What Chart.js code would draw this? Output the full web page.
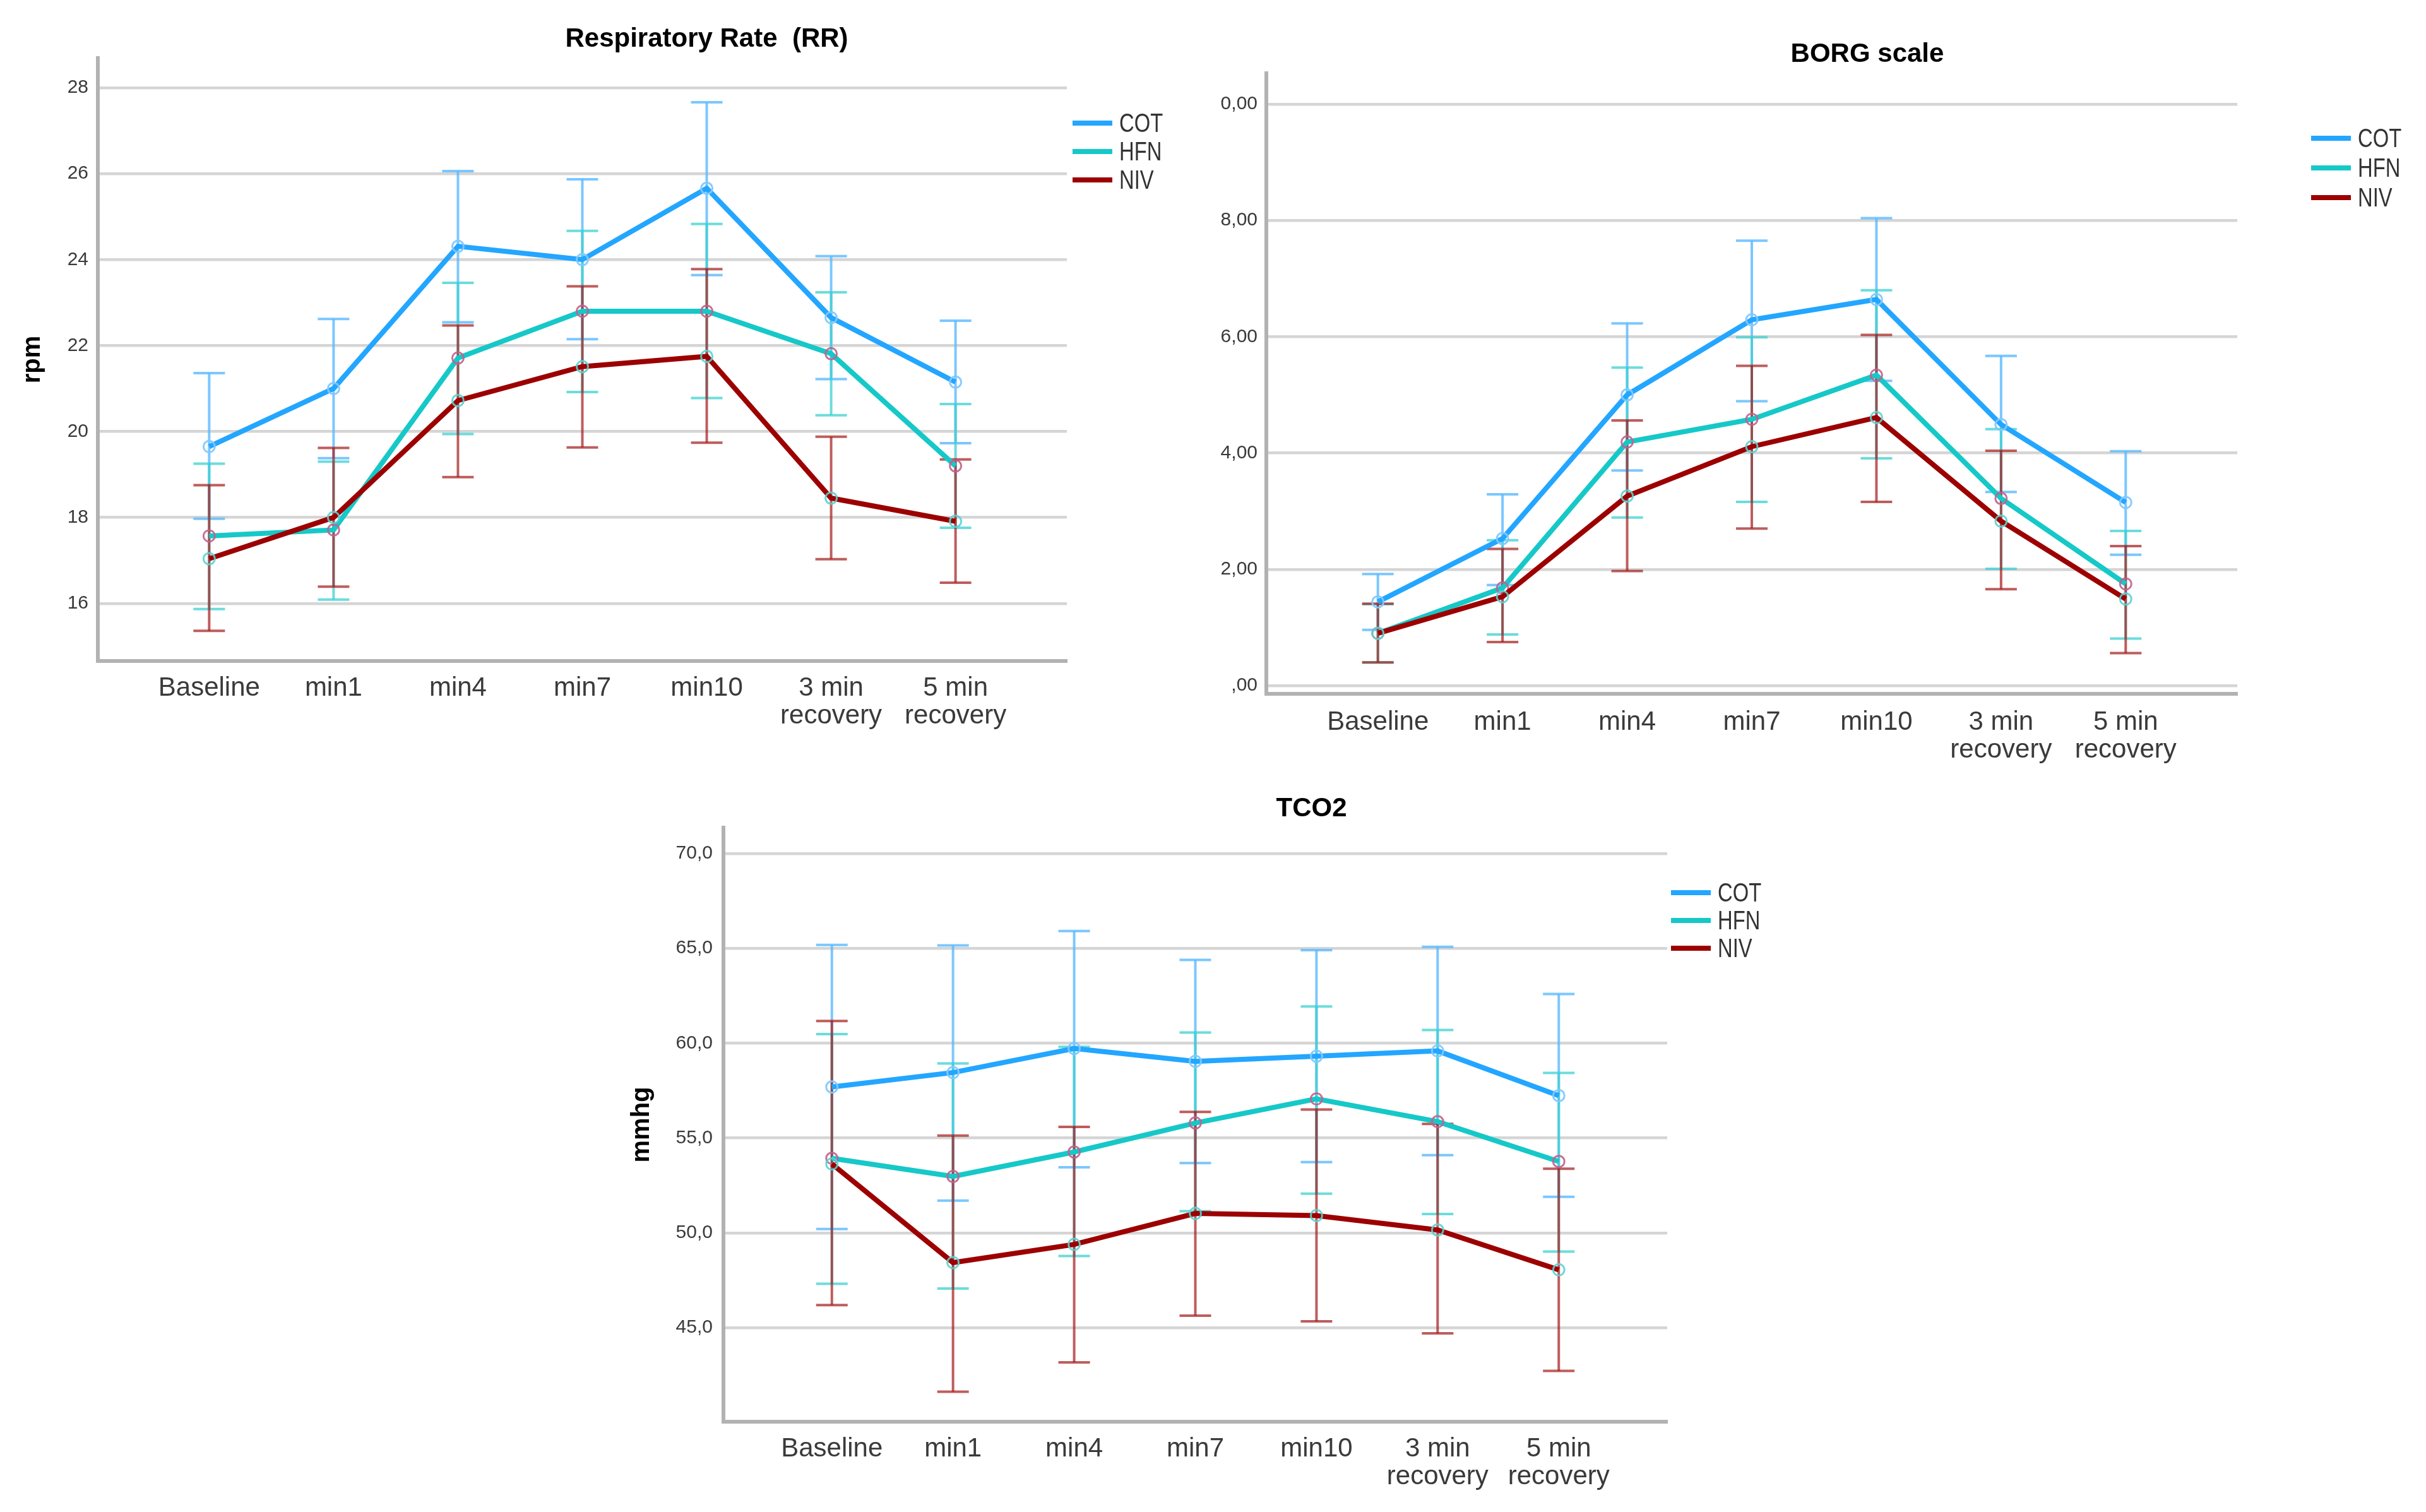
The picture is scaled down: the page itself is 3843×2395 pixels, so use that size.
<!DOCTYPE html>
<html>
<head>
<meta charset="utf-8">
<script src="https://cdn.jsdelivr.net/npm/chart.js@4.4.1/dist/chart.umd.min.js"></script>
<style>
  html, body { margin: 0; padding: 0; background: #fff; }
  body { width: 3843px; height: 2395px; position: relative; overflow: hidden; }
  canvas { position: absolute; }
  #rr { left: 0; top: 0; width: 1850px; height: 1180px; }
  #borg { left: 1850px; top: 0; width: 1993px; height: 1250px; }
  #tco2 { left: 950px; top: 1200px; width: 1900px; height: 1195px; }
</style>
</head>
<body>
<canvas id="rr" width="1850" height="1180"></canvas>
<canvas id="borg" width="1993" height="1250"></canvas>
<canvas id="tco2" width="1900" height="1195"></canvas>
<script>
const categories = ['Baseline', 'min1', 'min4', 'min7', 'min10', ['3 min', 'recovery'], ['5 min', 'recovery']];
const seriesNames = ['COT', 'HFN', 'NIV'];

// Respiratory rate (rpm): mean and 95% CI ends
const rrCotMean = [19.65, 21.0, 24.31, 24.0, 25.66, 22.65, 21.15];
const rrCotHigh = [21.36, 22.62, 26.06, 25.87, 27.66, 24.08, 22.58];
const rrCotLow  = [17.97, 19.38, 22.54, 22.15, 23.64, 21.22, 19.73];
const rrHfnMean = [17.57, 17.71, 21.71, 22.8, 22.8, 21.81, 19.2];
const rrHfnHigh = [19.25, 19.3, 23.46, 24.67, 24.83, 23.24, 20.64];
const rrHfnLow  = [15.87, 16.09, 19.94, 20.92, 20.78, 20.38, 17.76];
const rrNivMean = [17.04, 18.0, 20.72, 21.51, 21.75, 18.45, 17.91];
const rrNivHigh = [18.75, 19.62, 22.47, 23.38, 23.78, 19.88, 19.35];
const rrNivLow  = [15.36, 16.39, 18.94, 19.63, 19.74, 17.03, 16.48];
const rrTickValues = [28, 26, 24, 22, 20, 18, 16];
const rrTickLabels = ['28', '26', '24', '22', '20', '18', '16'];

// BORG scale
const borgCotMean = [1.44, 2.53, 5.0, 6.29, 6.64, 4.49, 3.15];
const borgCotHigh = [1.92, 3.29, 6.23, 7.65, 8.04, 5.67, 4.03];
const borgCotLow  = [0.96, 1.73, 3.70, 4.89, 5.24, 3.33, 2.25];
const borgHfnMean = [0.9, 1.68, 4.19, 4.58, 5.34, 3.22, 1.75];
const borgHfnHigh = [1.4, 2.5, 5.47, 5.99, 6.80, 4.41, 2.66];
const borgHfnLow  = [0.4, 0.88, 2.89, 3.16, 3.91, 2.01, 0.81];
const borgNivMean = [0.9, 1.53, 3.26, 4.11, 4.61, 2.83, 1.49];
const borgNivHigh = [1.41, 2.35, 4.56, 5.50, 6.03, 4.04, 2.40];
const borgNivLow  = [0.40, 0.75, 1.97, 2.70, 3.16, 1.66, 0.56];
const borgTickValues = [10, 8, 6, 4, 2, 0];
const borgTickLabels = ['0,00', '8,00', '6,00', '4,00', '2,00', ',00'];

// TCO2 (mmhg)
const tcoCotMean = [57.69, 58.45, 59.72, 59.04, 59.31, 59.59, 57.23];
const tcoCotHigh = [65.18, 65.15, 65.91, 64.39, 64.9, 65.08, 62.59];
const tcoCotLow  = [50.2, 51.7, 53.45, 53.68, 53.73, 54.09, 51.9];
const tcoHfnMean = [53.93, 52.97, 54.26, 55.79, 57.06, 55.86, 53.76];
const tcoHfnHigh = [60.48, 58.93, 59.8, 60.56, 61.93, 60.69, 58.43];
const tcoHfnLow  = [47.31, 47.06, 48.78, 51.14, 52.06, 50.99, 49.01];
const tcoNivMean = [53.63, 48.43, 49.39, 51.02, 50.91, 50.15, 48.05];
const tcoNivHigh = [61.17, 55.13, 55.58, 56.37, 56.5, 55.74, 53.38];
const tcoNivLow  = [46.19, 41.62, 43.17, 45.63, 45.33, 44.7, 42.72];
const tcoTickValues = [70, 65, 60, 55, 50, 45];
const tcoTickLabels = ['70,0', '65,0', '60,0', '55,0', '50,0', '45,0'];

const lineColors = ['#23a6ff', '#16c8c8', '#9c0000'];
const barColors = ['rgba(90,185,255,0.8)', 'rgba(60,208,208,0.75)', 'rgba(165,30,30,0.72)'];
const markerColors = ['rgba(130,200,255,0.95)', 'rgba(195,95,140,0.9)', 'rgba(90,210,210,0.9)'];
const FAMILY = 'Arial, "Liberation Sans", Helvetica, sans-serif';

Chart.defaults.font.family = FAMILY;

function meanPoints(m) {
  return m.map((v, i) => ({ x: i, y: v }));
}
function errorPoints(lo, hi) {
  const pts = [];
  lo.forEach((v, i) => {
    pts.push({ x: i, y: v }, { x: i, y: hi[i] }, { x: i, y: null });
  });
  return pts;
}

const panelTitle = {
  id: 'panelTitle',
  afterDraw(chart, args, opts) {
    const { ctx, chartArea } = chart;
    ctx.save();
    ctx.font = 'bold 42px ' + FAMILY;
    ctx.fillStyle = '#000';
    ctx.textAlign = 'center';
    ctx.textBaseline = 'middle';
    ctx.fillText(opts.text, (chartArea.left + chartArea.right) / 2 + opts.dx, chartArea.top - opts.dy);
    ctx.restore();
  }
};

// legend on the right, narrow text like the original
const sideLegend = {
  id: 'sideLegend',
  afterDraw(chart, args, opts) {
    const { ctx, chartArea } = chart;
    chart.data.datasets.filter(d => d.isSeries).forEach((d, k) => {
      const x = chartArea.right + opts.dx;
      const y = chartArea.top + opts.dy + k * opts.gap;
      ctx.save();
      ctx.strokeStyle = d.borderColor;
      ctx.lineWidth = 8;
      ctx.beginPath();
      ctx.moveTo(x, y);
      ctx.lineTo(x + 63, y);
      ctx.stroke();
      ctx.translate(x + 74, y);
      ctx.scale(0.78, 1);
      ctx.font = '42px ' + FAMILY;
      ctx.fillStyle = '#333';
      ctx.textAlign = 'left';
      ctx.textBaseline = 'middle';
      ctx.fillText(d.label, 0, 2);
      ctx.restore();
    });
  }
};

function buildChart(id, p) {
  const datasets = [];
  p.means.forEach((m, s) => {
    datasets.push({
      label: seriesNames[s],
      isSeries: true,
      data: meanPoints(m),
      borderColor: lineColors[s],
      borderWidth: 8,
      pointRadius: 9,
      pointBorderWidth: 3,
      pointBorderColor: markerColors[s],
      pointBackgroundColor: 'rgba(0,0,0,0)',
      order: 2 - s
    });
  });
  p.means.forEach((m, s) => {
    datasets.push({
      label: seriesNames[s] + ' CI',
      data: errorPoints(p.lows[s], p.highs[s]),
      borderColor: barColors[s],
      borderWidth: 4,
      pointStyle: 'line',
      pointRadius: 25,
      pointBorderWidth: 4,
      pointBorderColor: barColors[s],
      spanGaps: false,
      order: 5 - s
    });
  });

  return new Chart(document.getElementById(id), {
    type: 'line',
    data: { datasets },
    plugins: [panelTitle, sideLegend],
    options: {
      responsive: false,
      devicePixelRatio: 1,
      animation: false,
      layout: { padding: p.padding },
      plugins: {
        legend: { display: false },
        tooltip: { enabled: false },
        panelTitle: { text: p.title, dx: p.titleDx, dy: 30 },
        sideLegend: { dx: p.legendDx, dy: 103, gap: p.legendGap }
      },
      scales: {
        x: {
          type: 'linear',
          min: -0.895,
          max: 6.895,
          afterBuildTicks: s => { s.ticks = categories.map((c, i) => ({ value: i })); },
          afterFit: s => { s.height = p.xHeight; },
          grid: { display: false, drawTicks: false },
          border: { display: true, color: '#b2b2b2', width: 6 },
          ticks: {
            autoSkip: false,
            maxRotation: 0,
            padding: p.xPad,
            color: '#3a3a3a',
            font: { size: 42, lineHeight: 1.05 },
            callback: v => categories[v]
          }
        },
        y: {
          min: p.yMin,
          max: p.yMax,
          afterBuildTicks: s => { s.ticks = p.tickValues.map(v => ({ value: v })); },
          afterFit: s => { s.width = p.yWidth; },
          grid: { color: '#d5d5d5', lineWidth: 4.5, drawTicks: false },
          border: { display: true, color: '#b2b2b2', width: 6 },
          ticks: {
            padding: p.yPad,
            color: '#3a3a3a',
            font: { size: 30 },
            callback: v => p.tickLabels[p.tickValues.indexOf(v)]
          },
          title: {
            display: !!p.yTitle,
            text: p.yTitle || '',
            color: '#000',
            font: { size: 40, weight: 'bold' },
            padding: { top: 4, bottom: 4 }
          }
        }
      }
    }
  });
}

buildChart('rr', {
  title: 'Respiratory Rate  (RR)', titleDx: 197,
  means: [rrCotMean, rrHfnMean, rrNivMean],
  highs: [rrCotHigh, rrHfnHigh, rrNivHigh],
  lows: [rrCotLow, rrHfnLow, rrNivLow],
  tickValues: rrTickValues, tickLabels: rrTickLabels,
  yMin: 14.66, yMax: 28.69, yTitle: 'rpm',
  padding: { left: 24, top: 92, right: 160, bottom: 0 },
  yWidth: 131, yPad: 15, xHeight: 133, xPad: 21,
  legendDx: 9, legendGap: 45
});

buildChart('borg', {
  title: 'BORG scale', titleDx: 183,
  means: [borgCotMean, borgHfnMean, borgNivMean],
  highs: [borgCotHigh, borgHfnHigh, borgNivHigh],
  lows: [borgCotLow, borgHfnLow, borgNivLow],
  tickValues: borgTickValues, tickLabels: borgTickLabels,
  yMin: -0.14, yMax: 10.53, yTitle: '',
  padding: { left: 0, top: 116, right: 299, bottom: 0 },
  yWidth: 156, yPad: 14, xHeight: 151, xPad: 23,
  legendDx: 117, legendGap: 47
});

buildChart('tco2', {
  title: 'TCO2', titleDx: 184,
  means: [tcoCotMean, tcoHfnMean, tcoNivMean],
  highs: [tcoCotHigh, tcoHfnHigh, tcoNivHigh],
  lows: [tcoCotLow, tcoHfnLow, tcoNivLow],
  tickValues: tcoTickValues, tickLabels: tcoTickLabels,
  yMin: 40.04, yMax: 71.36, yTitle: 'mmhg',
  padding: { left: 39, top: 111, right: 209, bottom: 0 },
  yWidth: 157, yPad: 17, xHeight: 143, xPad: 21,
  legendDx: 6, legendGap: 44
});
</script>
</body>
</html>
